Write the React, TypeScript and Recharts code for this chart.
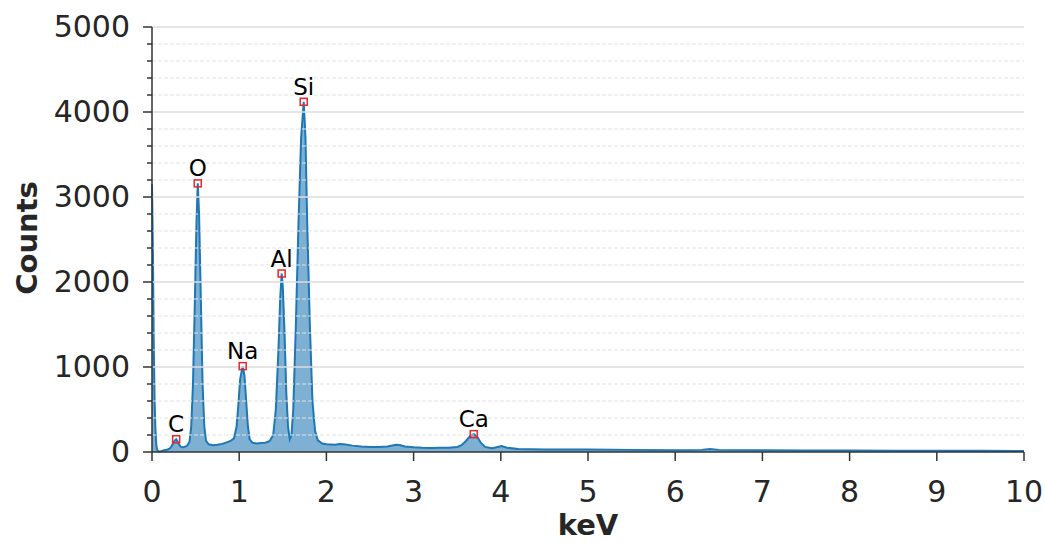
import React from "react";
import {
  ComposedChart,
  Area,
  XAxis,
  YAxis,
  ReferenceLine,
  ReferenceDot,
  Label,
} from "recharts";

// spectrum (keV, counts)
const energies = [
  0.0, 0.01, 0.02, 0.03, 0.04, 0.05, 0.06, 0.08, 0.1, 0.14, 0.18, 0.2, 0.22, 0.24, 0.26, 0.277, 0.29,
  0.31, 0.33, 0.36, 0.4, 0.43, 0.45, 0.47, 0.49, 0.51, 0.525, 0.54, 0.56, 0.58, 0.6, 0.62, 0.65, 0.7,
  0.75, 0.8, 0.85, 0.9, 0.94, 0.97, 0.99, 1.01, 1.04, 1.06, 1.08, 1.1, 1.12, 1.15, 1.2, 1.25, 1.3, 1.35,
  1.39, 1.42, 1.45, 1.47, 1.487, 1.5, 1.52, 1.54, 1.56, 1.58, 1.6, 1.62, 1.65, 1.68, 1.71, 1.74, 1.76,
  1.78, 1.81, 1.84, 1.87, 1.9, 1.95, 2.0, 2.1, 2.15, 2.2, 2.3, 2.4, 2.5, 2.6, 2.7, 2.8, 2.85, 2.9, 3.0,
  3.1, 3.2, 3.3, 3.4, 3.5, 3.55, 3.6, 3.65, 3.69, 3.73, 3.77, 3.82, 3.9, 3.95, 4.01, 4.07, 4.2, 4.5,
  5.0, 5.5, 6.0, 6.3, 6.4, 6.5, 7.0, 7.5, 8.0, 8.5, 9.0, 9.5, 10.0,
];
const counts = [
  3150, 2400, 1300, 600, 250, 80, 20, 5, 8, 20, 30, 40, 60, 100, 135, 150, 130,
  90, 60, 55, 70, 120, 300, 800, 1700, 2700, 3160, 2800, 1800, 800, 300, 130, 90, 80,
  85, 95, 110, 130, 160, 300, 550, 850, 1010, 900, 600, 300, 150, 110, 100, 105, 110, 130,
  200, 500, 1200, 1800, 2100, 1950, 1400, 700, 300, 150, 200, 500, 1500, 2700, 3700, 4120, 3700,
  2700, 1500, 600, 250, 140, 100, 90, 85, 95, 90, 75, 65, 60, 60, 65, 85, 80, 65, 55,
  50, 48, 50, 50, 60, 80, 130, 190, 210, 180, 110, 60, 45, 55, 70, 50, 35, 30,
  28, 25, 22, 25, 35, 25, 20, 18, 18, 16, 15, 14, 12,
];

const peakNames = ["C", "O", "Na", "Al", "Si", "Ca"];
const peakEnergies = [0.277, 0.525, 1.04, 1.487, 1.74, 3.69];
const peakCounts = [150, 3160, 1010, 2100, 4120, 210];

const xTicks = [0, 1, 2, 3, 4, 5, 6, 7, 8, 9, 10];
const majorTicks = [0, 1000, 2000, 3000, 4000, 5000];
const minorTicks = [
  200, 400, 600, 800, 1200, 1400, 1600, 1800, 2200, 2400, 2600, 2800, 3200, 3400, 3600, 3800,
  4200, 4400, 4600, 4800,
];

const data = energies.map((e, i) => ({ kev: e, counts: counts[i] }));
const allYTicks = [...majorTicks, ...minorTicks].sort((a, b) => a - b);

const FONT = "DejaVu Sans";
const AXIS_X = 152;

function YTick(props: any) {
  const { y, payload } = props;
  const major = payload.value % 1000 === 0;
  return (
    <g>
      <line
        x1={AXIS_X - (major ? 9 : 5)}
        x2={AXIS_X}
        y1={y}
        y2={y}
        stroke="#333"
        strokeWidth={1.5}
      />
      {major && (
        <text
          x={AXIS_X - 22}
          y={y}
          dy={10}
          textAnchor="end"
          fontSize={30}
          fontFamily={FONT}
          fill="#262626"
        >
          {payload.value}
        </text>
      )}
    </g>
  );
}

function PeakMarker(props: any) {
  const { cx, cy, name } = props;
  return (
    <g>
      <rect x={cx - 3.5} y={cy - 3.5} width={7} height={7} fill="none" stroke="#e8262b" strokeWidth={1.5} />
      <text x={cx} y={cy - 7} textAnchor="middle" fontSize={23} fontFamily={FONT} fill="#000">
        {name}
      </text>
    </g>
  );
}

export default function App() {
  return (
    <div style={{ position: "absolute", left: 0, top: 0, background: "#fff" }}>
      <ComposedChart
        width={1045}
        height={543}
        data={data}
        margin={{ top: 27, right: 21, left: 0, bottom: 0 }}
      >
        {minorTicks.map((v) => (
          <ReferenceLine key={"m" + v} y={v} stroke="#e3e3e3" strokeWidth={1} strokeDasharray="4 2" />
        ))}
        {majorTicks.slice(1).map((v) => (
          <ReferenceLine key={"M" + v} y={v} stroke="#dcdcdc" strokeWidth={1.3} />
        ))}
        <XAxis
          dataKey="kev"
          type="number"
          domain={[0, 10]}
          ticks={xTicks}
          height={91}
          tickSize={9}
          tickMargin={20}
          axisLine={{ stroke: "#333", strokeWidth: 1.5 }}
          tickLine={{ stroke: "#333", strokeWidth: 1.5 }}
          tick={{ fontSize: 30, fontFamily: FONT, fill: "#262626" }}
          interval={0}
        >
          <Label
            value="keV"
            position="insideBottom"
            offset={8}
            style={{ fontSize: 29, fontWeight: "bold", fontFamily: FONT, fill: "#262626" }}
          />
        </XAxis>
        <YAxis
          type="number"
          domain={[0, 5000]}
          ticks={allYTicks}
          width={152}
          interval={0}
          tickLine={false}
          axisLine={{ stroke: "#333", strokeWidth: 1.5 }}
          tick={<YTick />}
        >
          <Label
            content={() => (
              <text
                x={27}
                y={238}
                transform="rotate(-90 27 238)"
                textAnchor="middle"
                dominantBaseline="central"
                fontSize={29}
                fontWeight="bold"
                fontFamily={FONT}
                fill="#262626"
              >
                Counts
              </text>
            )}
          />
        </YAxis>
        <Area
          type="linear"
          dataKey="counts"
          stroke="#1f77b4"
          strokeWidth={2}
          fill="#1f77b4"
          fillOpacity={0.58}
          dot={false}
          activeDot={false}
          isAnimationActive={false}
        />
        {peakNames.map((n, i) => (
          <ReferenceDot
            key={n}
            x={peakEnergies[i]}
            y={peakCounts[i]}
            shape={(p: any) => <PeakMarker {...p} name={n} />}
          />
        ))}
      </ComposedChart>
    </div>
  );
}
